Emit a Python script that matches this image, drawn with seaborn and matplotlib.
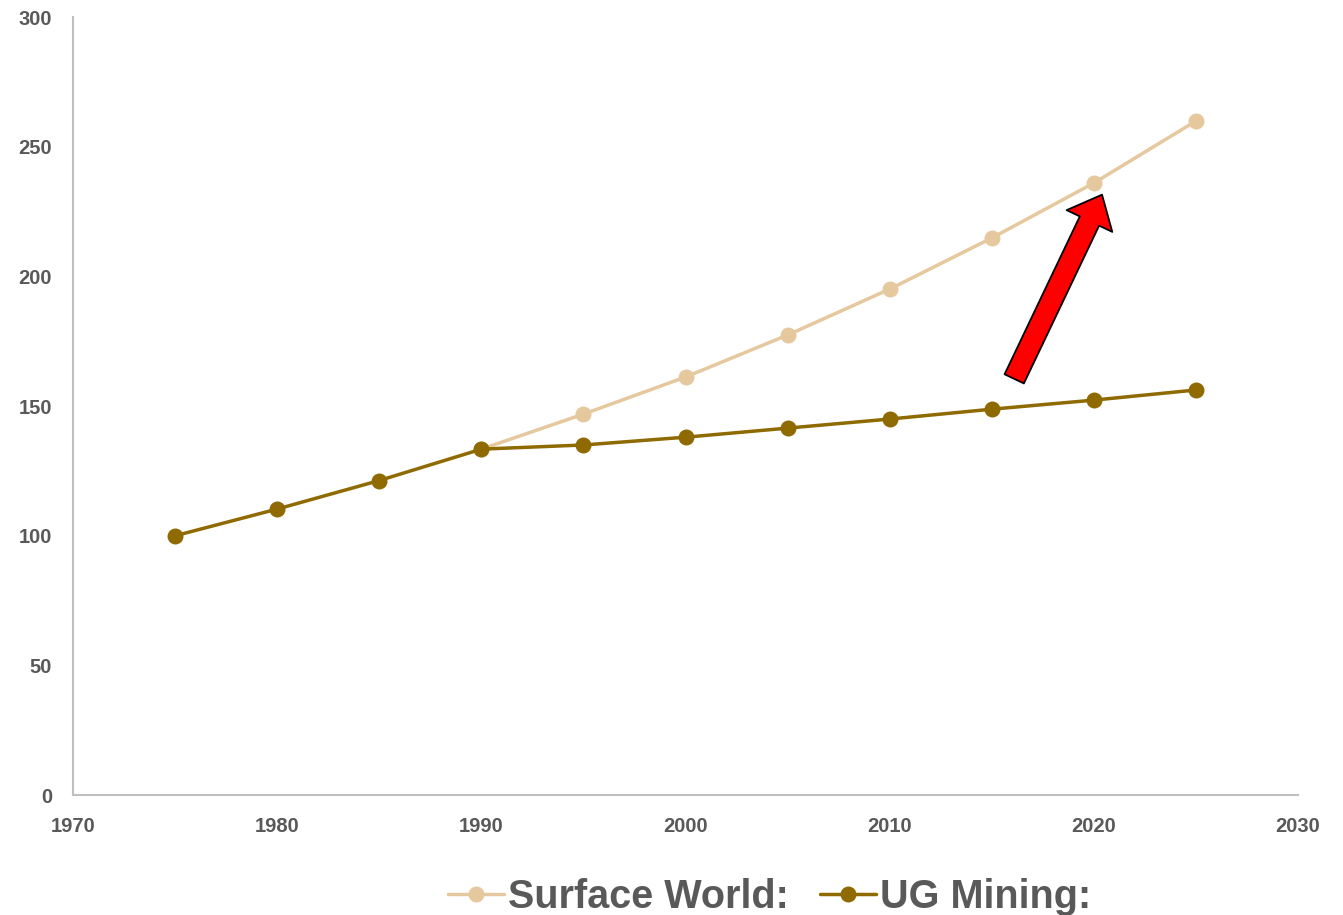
import matplotlib
matplotlib.use('Agg')
import matplotlib.pyplot as plt
import pandas as pd
import seaborn as sns

# data
ug_years = [1975, 1980, 1985, 1990, 1995, 2000, 2005, 2010, 2015, 2020, 2025]
ug_values = [100.0, 110.3, 121.3, 133.4, 135.0, 138.0, 141.5, 145.0, 148.8, 152.3, 156.2]
surface_years = [1990, 1995, 2000, 2005, 2010, 2015, 2020, 2025]
surface_values = [133.4, 146.9, 161.2, 177.4, 195.1, 214.8, 236.0, 259.9]
series_names = ['Surface World:', 'UG Mining:']
series_colors = ['#E6C89E', '#8F6A00']
y_ticks = [0, 50, 100, 150, 200, 250, 300]
x_ticks = [1970, 1980, 1990, 2000, 2010, 2020, 2030]

sns.set_style('white')
plt.rcParams['font.family'] = ['Liberation Sans Narrow', 'Liberation Sans', 'DejaVu Sans']

df_surface = pd.DataFrame({'year': surface_years, 'value': surface_values})
df_ug = pd.DataFrame({'year': ug_years, 'value': ug_values})

fig = plt.figure(figsize=(13.43, 9.15), dpi=100)
ax = fig.add_axes([0.0544, 0.131, 0.9121, 0.8504])

for df, name, color in zip([df_surface, df_ug], series_names, series_colors):
    sns.lineplot(data=df, x='year', y='value', ax=ax, color=color, label=name,
                 linewidth=2.5, marker='o', markersize=11.5,
                 markeredgecolor=color, markeredgewidth=0)

ax.set_xlim(1970, 2030)
ax.set_ylim(0, 300)
ax.set_xticks(x_ticks)
ax.set_yticks(y_ticks)
ax.set_xlabel('')
ax.set_ylabel('')

txt_color = '#595959'
for lbl in ax.get_xticklabels() + ax.get_yticklabels():
    lbl.set_fontsize(14.5)
    lbl.set_fontweight('bold')
    lbl.set_color(txt_color)
ax.tick_params(axis='both', length=0)
ax.tick_params(axis='x', pad=16)
ax.tick_params(axis='y', pad=15)

sns.despine(ax=ax)
for side in ['left', 'bottom']:
    ax.spines[side].set_color('#BFBFBF')
    ax.spines[side].set_linewidth(1.5)

# red arrow pointing at the 2020 surface point
ax.annotate('', xy=(2020.4, 231.5), xytext=(2016.1, 160.5),
            arrowprops=dict(arrowstyle='simple,head_width=2.6,head_length=1.5,tail_width=1.1',
                            fc='#FF0000', ec='black', lw=1.3, mutation_scale=14,
                            shrinkA=0, shrinkB=0))

ax.get_legend().remove()
handles, labels = ax.get_legend_handles_labels()
leg = fig.legend(handles, labels, loc='lower center', bbox_to_anchor=(0.573, -0.04),
                 ncol=2, frameon=False, handlelength=1.4, handletextpad=0.1,
                 columnspacing=0.8, prop={'size': 28.5, 'weight': 'bold'})
for t in leg.get_texts():
    t.set_color(txt_color)

fig.savefig('out.png', dpi=100)
